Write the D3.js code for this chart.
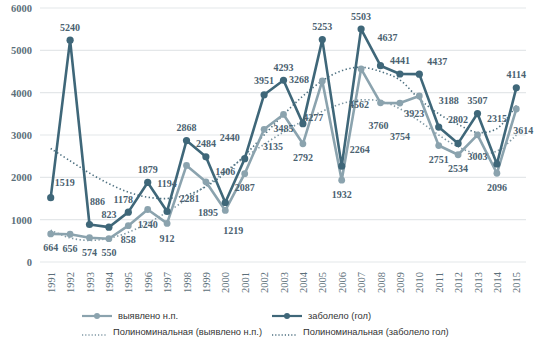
<!DOCTYPE html>
<html>
<head>
<meta charset="utf-8">
<script src="https://cdn.jsdelivr.net/npm/d3@7"></script>
<style>
  html, body { margin: 0; padding: 0; background: #fff; }
  svg { display: block; }
</style>
</head>
<body>
<svg id="chart" width="542" height="346"></svg>
<script>
const years = ['1991', '1992', '1993', '1994', '1995', '1996', '1997', '1998', '1999', '2000', '2001', '2002', '2003',
  '2004', '2005', '2006', '2007', '2008', '2009', '2010', '2011', '2012', '2013', '2014', '2015']

const found = [664, 656, 574, 550, 858, 1240, 912, 2281, 1895, 1219, 2087, 3135, 3485,
  2792, 4277, 1932, 4562, 3760, 3754, 3923, 2751, 2534, 3003, 2096, 3614]

const sick = [1519, 5240, 886, 823, 1178, 1879, 1194, 2868, 2484, 1406, 2440, 3951, 4293,
  3268, 5253, 2264, 5503, 4637, 4441, 4437, 3188, 2802, 3507, 2315, 4114]

// trend lines
const foundTrend = [750, 570, 510, 560, 700, 920, 1180, 1480, 1800, 2140, 2470, 2780, 3070,
  3330, 3560, 3740, 3830, 3800, 3620, 3330, 3000, 2720, 2560, 2620, 3000]

const sickTrend = [2680, 2390, 2100, 1850, 1650, 1530, 1500, 1580, 1780, 2100, 2520, 3000, 3480,
  3920, 4280, 4520, 4600, 4500, 4300, 3850, 3500, 3250, 3060, 3150, 3700]

const yTicks = [0, 1000, 2000, 3000, 4000, 5000, 6000]

const seriesNames = ['выявлено н.п.', 'заболело (гол)']
const trendNames = ['Полиноминальная (выявлено н.п.)', 'Полиноминальная (заболело гол)']

// label nudges (dx, dy) from the point
const foundNudge = [[0, 14], [0, 14], [0, 15], [0, 14], [0, 14], [0, 15], [0, 15], [3, 33], [2, 31], [8, 20],
  [0, 14], [9, 17], [0, 14], [0, 14], [-9, 37], [0, 14], [-2, 36], [-2, 23], [0, 33], [-5, 18],
  [0, 14], [0, 14], [0, 22], [0, 14], [7, 21]]

const sickNudge = [[14, -15], [0, -13], [8, -23], [0, -13], [-5, -13], [0, -13], [0, -28], [0, -13], [0, -13], [0, -31],
  [-15, -21], [0, -14], [0, -13], [-4, -44], [0, -13], [18, -17], [0, -13], [7, -28], [0, -13], [18, -13],
  [10, -27], [0, -24], [0, -13], [0, -45], [0, -13]]

const COLORS = {
  found: '#8ba3ae',
  sick: '#3f6779',
  foundTrend: '#7f98a4',
  sickTrend: '#4d7080',
  grid: '#e4e7e9',
  label: '#4a6170',
  axis: '#5c6f7a'
}

class TrendChart {
  constructor (el) {
    this.svg = d3.select(el)
    this.x = d3.scalePoint().domain(years).range([41, 526]).padding(0.5)
    this.y = d3.scaleLinear().domain([0, 6000]).range([262, 8])
  }

  _rows (values) {
    return years.map((year, i) => ({ year, value: values[i], i }))
  }

  _grid () {
    const g = this.svg.append('g')
    g.selectAll('line')
      .data(yTicks)
      .enter()
      .append('line')
      .attr('x1', 40)
      .attr('x2', 526)
      .attr('y1', d => this.y(d))
      .attr('y2', d => this.y(d))
      .attr('stroke', COLORS.grid)
      .attr('stroke-width', 1.2)

    const yAxis = d3.axisLeft(this.y).tickValues(yTicks).tickFormat(d3.format('d')).tickSize(0).tickPadding(0)
    this.svg.append('g')
      .attr('transform', 'translate(32,0)')
      .call(yAxis)
      .call(s => s.select('.domain').remove())
      .selectAll('text')
      .attr('font-family', 'Liberation Serif, serif')
      .attr('font-size', 10.5)
      .attr('font-weight', 'bold')
      .attr('fill', COLORS.axis)

    const xAxis = d3.axisBottom(this.x).tickSize(0).tickPadding(0)
    this.svg.append('g')
      .attr('transform', 'translate(0,272)')
      .call(xAxis)
      .call(s => s.select('.domain').remove())
      .selectAll('text')
      .attr('font-family', 'Liberation Serif, serif')
      .attr('font-size', 10.5)
      .attr('fill', COLORS.axis)
      .attr('text-anchor', 'end')
      .attr('dy', '0.35em')
      .attr('transform', 'rotate(-90)')
      .attr('x', 0)
      .attr('y', 0)
  }

  _trend (values, color) {
    const line = d3.line()
      .x(d => this.x(d.year))
      .y(d => this.y(d.value))
      .curve(d3.curveCatmullRom)
    this.svg.append('path')
      .datum(this._rows(values))
      .attr('d', line)
      .attr('fill', 'none')
      .attr('stroke', color)
      .attr('stroke-width', 1.6)
      .attr('stroke-dasharray', '1.4,2.4')
  }

  _series (values, color, r) {
    const line = d3.line()
      .x(d => this.x(d.year))
      .y(d => this.y(d.value))
    const g = this.svg.append('g')
    g.append('path')
      .datum(this._rows(values))
      .attr('d', line)
      .attr('fill', 'none')
      .attr('stroke', color)
      .attr('stroke-width', 2.6)
      .attr('stroke-linejoin', 'round')
    g.selectAll('circle')
      .data(this._rows(values))
      .enter()
      .append('circle')
      .attr('cx', d => this.x(d.year))
      .attr('cy', d => this.y(d.value))
      .attr('r', r)
      .attr('fill', color)
  }

  _labels (values, nudge) {
    this.svg.append('g')
      .selectAll('text')
      .data(this._rows(values))
      .enter()
      .append('text')
      .attr('x', d => this.x(d.year) + nudge[d.i][0])
      .attr('y', d => this.y(d.value) + nudge[d.i][1])
      .attr('text-anchor', 'middle')
      .attr('dy', '0.35em')
      .attr('font-family', 'Liberation Serif, serif')
      .attr('font-size', 10)
      .attr('font-weight', 'bold')
      .attr('fill', COLORS.label)
      .text(d => d.value)
  }

  _legend () {
    const items = [
      { x: 82, y: 316, name: seriesNames[0], color: COLORS.found, kind: 'line' },
      { x: 272, y: 316, name: seriesNames[1], color: COLORS.sick, kind: 'line' },
      { x: 82, y: 332, name: trendNames[0], color: COLORS.foundTrend, kind: 'dots' },
      { x: 272, y: 332, name: trendNames[1], color: COLORS.sickTrend, kind: 'dots' }
    ]
    const g = this.svg.append('g')
    items.forEach(item => {
      const w = item.kind === 'line' ? 30 : 25
      g.append('line')
        .attr('x1', item.x)
        .attr('x2', item.x + w)
        .attr('y1', item.kind === 'line' ? item.y : item.y + 3)
        .attr('y2', item.kind === 'line' ? item.y : item.y + 3)
        .attr('stroke', item.color)
        .attr('stroke-width', item.kind === 'line' ? 2.2 : 1.3)
        .attr('stroke-dasharray', item.kind === 'line' ? null : '1.2,2')
      if (item.kind === 'line') {
        g.append('circle')
          .attr('cx', item.x + w / 2)
          .attr('cy', item.y)
          .attr('r', 3)
          .attr('fill', item.color)
      }
      g.append('text')
        .attr('x', item.x + w + 6)
        .attr('y', item.y)
        .attr('dy', '0.35em')
        .attr('font-family', 'Liberation Sans, Arial, sans-serif')
        .attr('font-size', 9.3)
        .attr('fill', '#333')
        .text(item.name)
    })
  }

  render () {
    this._grid()
    this._trend(foundTrend, COLORS.foundTrend)
    this._trend(sickTrend, COLORS.sickTrend)
    this._series(found, COLORS.found, 3.4)
    this._series(sick, COLORS.sick, 3.6)
    this._labels(found, foundNudge)
    this._labels(sick, sickNudge)
    this._legend()
  }
}

new TrendChart('#chart').render()
</script>
</body>
</html>
